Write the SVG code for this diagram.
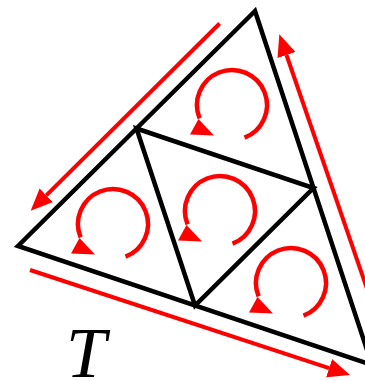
<svg xmlns="http://www.w3.org/2000/svg" xmlns:xlink="http://www.w3.org/1999/xlink" width="365" height="381" viewBox="0 0 365 381">
<style>
.edge{fill:none;stroke:#000;stroke-width:4.5;stroke-linejoin:miter;stroke-linecap:round}
.red{fill:none;stroke:#ff0000;stroke-width:4}
.arc{fill:none;stroke:#ff0000;stroke-width:4.5}
.head{fill:#ff0000;stroke:none}
.lbl{font-family:"Liberation Serif","Times New Roman",serif;font-style:italic;font-size:72px;fill:#000}
</style>
<defs>
<marker id="ah" markerUnits="userSpaceOnUse" markerWidth="24" markerHeight="22" viewBox="0 -11 24 22" refX="0" refY="0" orient="auto">
<path d="M0,-9.5 L22,0 L0,9.5 z" fill="#ff0000"/>
</marker>
<g id="rot">
<path class="arc" d="M12.5,32.7 A35,35 0 1 0 -32.4,13.3"/>
<polygon class="head" points="-42,29.5 -18,30.5 -33.5,14"/>
</g>
</defs>
<rect width="365" height="381" fill="#fff"/>
<g id="triangle">
<polygon class="edge" points="255,11 18,246 372,365"/>
<polygon class="edge" points="136.5,128.5 313.5,188 195,305.5"/>
</g>
<g id="connectors">
<line class="red" x1="219.6" y1="23.5" x2="46.3" y2="195.3" marker-end="url(#ah)"/>
<line class="red" x1="405.3" y1="400" x2="286.5" y2="55" marker-end="url(#ah)"/>
<line class="red" x1="30" y1="270" x2="329.1" y2="368.1" marker-end="url(#ah)"/>
</g>
<g id="rot-top"><use xlink:href="#rot" href="#rot" transform="translate(232,105)"/></g>
<g id="rot-left"><use xlink:href="#rot" href="#rot" transform="translate(113,224)"/></g>
<g id="rot-mid"><use xlink:href="#rot" href="#rot" transform="translate(220,211)"/></g>
<g id="rot-right"><use xlink:href="#rot" href="#rot" transform="translate(291,283)"/></g>
<g id="label"><text class="lbl" x="66" y="377">T</text></g>
</svg>
